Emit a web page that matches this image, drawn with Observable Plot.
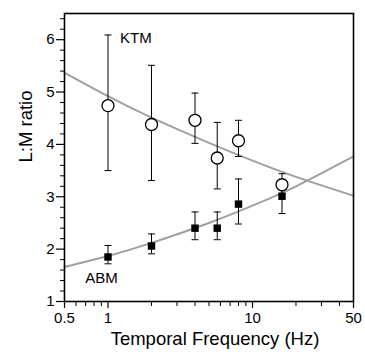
<!DOCTYPE html>
<html>
<head>
<meta charset="utf-8">
<script src="https://cdn.jsdelivr.net/npm/d3@7"></script>
<script src="https://cdn.jsdelivr.net/npm/@observablehq/plot@0.6"></script>
<style>
  html, body { margin: 0; padding: 0; background: #fff; }
</style>
</head>
<body>
<div id="chart"></div>
<script>
// Measured data (frequency in Hz)
const freq = [1, 2, 4, 5.7, 8, 16];
const ktmY  = [4.74, 4.38, 4.46, 3.74, 4.07, 3.23];
const ktmLo = [3.50, 3.31, 4.02, 3.15, 3.77, 3.05];
const ktmHi = [6.09, 5.51, 4.98, 4.42, 4.46, 3.44];
const abmY  = [1.85, 2.06, 2.40, 2.40, 2.86, 3.01];
const abmLo = [1.72, 1.91, 2.18, 2.18, 2.48, 2.68];
const abmHi = [2.07, 2.29, 2.71, 2.71, 3.34, 3.30];

// Fitted curves
const fitX   = [0.5, 1, 2, 5, 10, 20, 50];
const ktmFit = [5.37, 4.92, 4.51, 4.03, 3.69, 3.38, 3.02];
const abmFit = [1.66, 1.87, 2.12, 2.50, 2.83, 3.20, 3.77];

// Series labels
const labelText = ["KTM", "ABM"];
const labelX = [1.56, 0.9];
const labelY = [6.02, 1.45];

// Ticks
const xMajor = [0.5, 1, 10, 50];
const xMinor = [0.6, 0.7, 0.8, 0.9, 2, 3, 4, 5, 6, 7, 8, 9, 20, 30, 40];
const yMajor = [1, 2, 3, 4, 5, 6];
const yMinor = [1.2, 1.4, 1.6, 1.8, 2.2, 2.4, 2.6, 2.8, 3.2, 3.4, 3.6, 3.8,
                4.2, 4.4, 4.6, 4.8, 5.2, 5.4, 5.6, 5.8, 6.2, 6.4];

const ktm = freq.map((f, i) => ({f, y: ktmY[i], lo: ktmLo[i], hi: ktmHi[i]}));
const abm = freq.map((f, i) => ({f, y: abmY[i], lo: abmLo[i], hi: abmHi[i]}));
const ktmLine = fitX.map((f, i) => ({f, y: ktmFit[i]}));
const abmLine = fitX.map((f, i) => ({f, y: abmFit[i]}));
const labels = labelText.map((t, i) => ({t, x: labelX[i], y: labelY[i]}));

const cap = {draw(ctx) { ctx.moveTo(-3.5, 0); ctx.lineTo(3.5, 0); }};
const caps = (data) => [
  Plot.dot(data, {x: "f", y: "lo", symbol: cap, stroke: "black", strokeWidth: 1, r: 3}),
  Plot.dot(data, {x: "f", y: "hi", symbol: cap, stroke: "black", strokeWidth: 1, r: 3})
];

const chart = Plot.plot({
  width: 365,
  height: 354,
  marginLeft: 64,
  marginRight: 12,
  marginTop: 13,
  marginBottom: 53,
  style: {fontFamily: "'Liberation Sans', Arial, Helvetica, sans-serif", background: "white", color: "black"},
  x: {type: "log", domain: [0.5, 50]},
  y: {domain: [1, 6.5]},
  marks: [
    Plot.line(ktmLine, {x: "f", y: "y", curve: "natural", stroke: "#a0a0a0", strokeWidth: 2}),
    Plot.line(abmLine, {x: "f", y: "y", curve: "natural", stroke: "#a0a0a0", strokeWidth: 2}),
    Plot.ruleX(ktm, {x: "f", y1: "lo", y2: "hi", stroke: "black", strokeWidth: 1}),
    Plot.ruleX(abm, {x: "f", y1: "lo", y2: "hi", stroke: "black", strokeWidth: 1}),
    ...caps(ktm),
    ...caps(abm),
    Plot.dot(ktm, {x: "f", y: "y", r: 6, fill: "white", stroke: "black", strokeWidth: 1.3}),
    Plot.dot(abm, {x: "f", y: "y", symbol: "square", r: 4.2, fill: "black", stroke: "none"}),
    Plot.text(labels, {x: "x", y: "y", text: "t", fontSize: 15, fill: "black"}),
    Plot.axisX(xMinor, {tickSize: 5, tickFormat: () => "", label: null, strokeWidth: 1}),
    Plot.axisX(xMajor, {tickSize: 7, tickFormat: () => "", label: null, strokeWidth: 1.2}),
    Plot.text(xMajor, {x: d => d, text: d => String(d), frameAnchor: "bottom", lineAnchor: "top", dy: 11, fontSize: 15, fill: "black"}),
    Plot.axisY(yMinor, {tickSize: 4, tickFormat: () => "", label: null, strokeWidth: 1}),
    Plot.axisY(yMajor, {tickSize: 8, tickPadding: 2, fontSize: 15, label: null, tickFormat: d => String(d), strokeWidth: 1.2}),
    Plot.frame({stroke: "black", strokeWidth: 1.6}),
    Plot.text(["Temporal Frequency (Hz)"], {frameAnchor: "bottom", dy: 43, dx: 6, fontSize: 18.5, fill: "black"}),
    Plot.text(["L:M ratio"], {frameAnchor: "left", dx: -38, dy: 5, rotate: -90, fontSize: 18.5, fill: "black"})
  ]
});
document.getElementById("chart").appendChild(chart);
</script>
</body>
</html>
